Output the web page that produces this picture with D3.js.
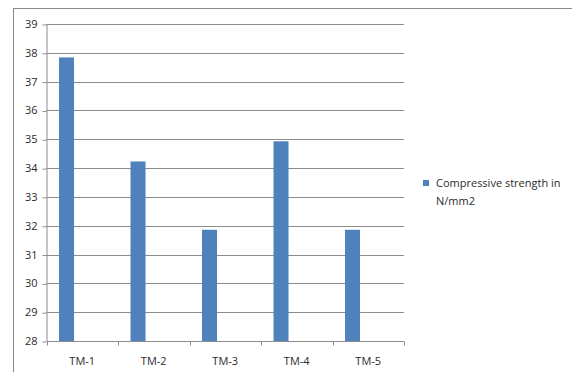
<!DOCTYPE html>
<html>
<head>
<meta charset="utf-8">
<script src="https://cdn.jsdelivr.net/npm/d3@7"></script>
<style>
  html, body { margin: 0; padding: 0; background: #fff; }
  svg { display: block; font-family: "Open Sans", "Liberation Sans", sans-serif; }
</style>
</head>
<body>
<svg id="chart" width="572" height="372"></svg>
<script>
// Compressive strength per mix
const categories = ["TM-1", "TM-2", "TM-3", "TM-4", "TM-5"];
const strengthValues = [37.84, 34.23, 31.86, 34.93, 31.86];
const yTicks = [28, 29, 30, 31, 32, 33, 34, 35, 36, 37, 38, 39];
const legendLabel = ["Compressive strength in", "N/mm2"];

const svg = d3.select("#chart");
const textColor = "#2b2b2b";
const gridColor = "#8c8c8c";
const barColor = "#4f81bd";

// Chart-area frame
svg.append("rect")
  .attr("x", 13.5).attr("y", 8.5)
  .attr("width", 620).attr("height", 420)
  .attr("fill", "none").attr("stroke", "#8a8a8a").attr("stroke-width", 1);

const plot = { left: 46.5, right: 404, top: 24, bottom: 341 };

const x = d3.scaleBand().domain(categories).range([plot.left, plot.right]).padding(0);
const y = d3.scaleLinear().domain([28, 39]).range([plot.bottom, plot.top]);

// Horizontal gridlines
svg.append("g").selectAll("line")
  .data(yTicks.filter(t => t > 28))
  .join("line")
  .attr("x1", plot.left).attr("x2", plot.right)
  .attr("y1", d => Math.round(y(d)) + 0.5).attr("y2", d => Math.round(y(d)) + 0.5)
  .attr("stroke", gridColor).attr("stroke-width", 1);

// Bars sit in the left part of each category slot
const barStart = 0.175, barFrac = 0.21;
svg.append("g").selectAll("rect")
  .data(categories.map((c, i) => ({ c, v: strengthValues[i] })))
  .join("rect")
  .attr("x", d => x(d.c) + x.bandwidth() * barStart)
  .attr("width", x.bandwidth() * barFrac)
  .attr("y", d => y(d.v))
  .attr("height", d => y(28) - y(d.v))
  .attr("fill", barColor);

// Y axis
const yAxis = svg.append("g")
  .attr("transform", `translate(${plot.left},0)`)
  .call(d3.axisLeft(y).tickValues(yTicks).tickSize(4).tickPadding(5).tickFormat(d3.format("d")));
yAxis.select(".domain").attr("stroke", gridColor).attr("d", `M0.5,${plot.top}V${plot.bottom}`);
yAxis.selectAll(".tick line").attr("stroke", gridColor).attr("transform", "translate(0,0.5)");
yAxis.selectAll(".tick text").attr("fill", textColor).attr("font-size", 11)
  .attr("font-family", "Open Sans, Liberation Sans, sans-serif");

// X axis with ticks at category boundaries
const xAxis = svg.append("g").attr("transform", `translate(0,${plot.bottom + 0.5})`);
xAxis.append("line")
  .attr("x1", plot.left).attr("x2", plot.right)
  .attr("stroke", gridColor);
const bounds = categories.map(c => x(c)).concat([plot.right]);
xAxis.selectAll("line.tk").data(bounds).join("line").attr("class", "tk")
  .attr("x1", d => Math.round(d) + 0.5).attr("x2", d => Math.round(d) + 0.5)
  .attr("y1", 0).attr("y2", 4).attr("stroke", gridColor);
xAxis.selectAll("text").data(categories).join("text")
  .attr("x", d => x(d) + x.bandwidth() / 2)
  .attr("y", 23)
  .attr("text-anchor", "middle")
  .attr("fill", textColor).attr("font-size", 11)
  .text(d => d);

// Legend
const legend = svg.append("g");
legend.append("rect")
  .attr("x", 423).attr("y", 180)
  .attr("width", 6).attr("height", 6)
  .attr("fill", barColor);
legend.selectAll("text").data(legendLabel).join("text")
  .attr("x", 436)
  .attr("y", (d, i) => 187 + i * 18)
  .attr("fill", textColor).attr("font-size", 11)
  .text(d => d);
</script>
</body>
</html>
